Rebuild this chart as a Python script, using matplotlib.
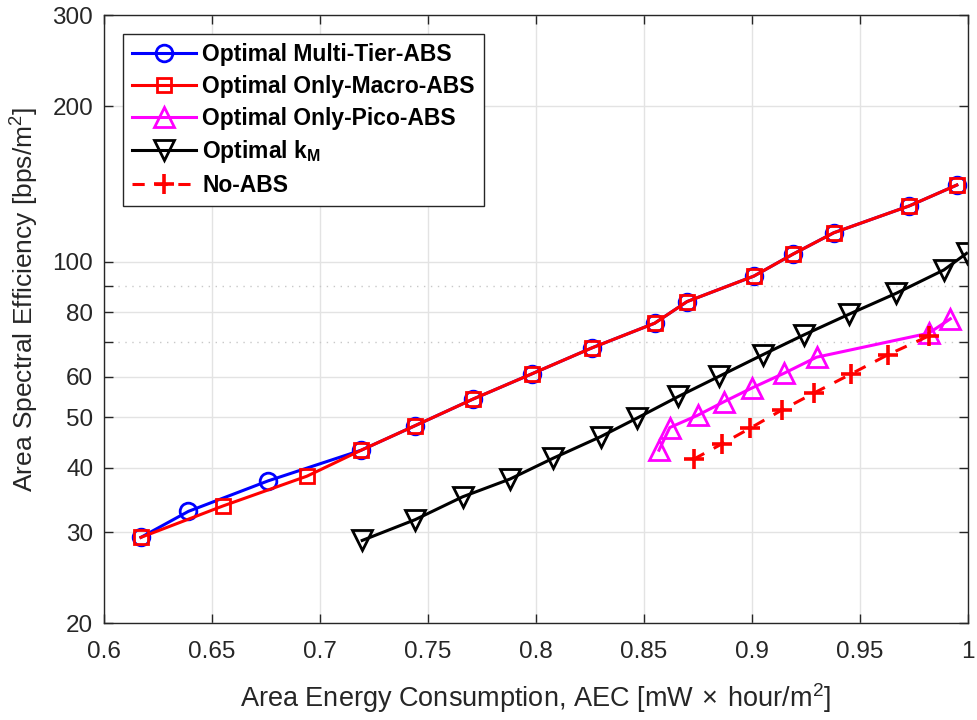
import numpy as np
import matplotlib
matplotlib.use('Agg')
import matplotlib.pyplot as plt
from matplotlib.ticker import FixedLocator, NullFormatter

plt.rcParams['font.family'] = ['Liberation Sans', 'DejaVu Sans']
plt.rcParams['mathtext.fontset'] = 'custom'
plt.rcParams['mathtext.rm'] = 'Liberation Sans'
plt.rcParams['mathtext.bf'] = 'Liberation Sans:bold'

# data
aec_multi = [0.617, 0.639, 0.676, 0.719, 0.744, 0.771, 0.798, 0.826, 0.855, 0.870, 0.901, 0.919, 0.938, 0.973, 0.995]
ase_multi = [29.3, 32.9, 37.7, 43.2, 48.2, 54.3, 60.7, 68.2, 76.1, 83.8, 93.9, 103.5, 113.9, 128.4, 140.9]

aec_macro = [0.617, 0.655, 0.694, 0.719, 0.744, 0.771, 0.798, 0.826, 0.855, 0.870, 0.901, 0.919, 0.938, 0.973, 0.995]
ase_macro = [29.3, 33.7, 38.5, 43.2, 48.2, 54.3, 60.7, 68.2, 76.1, 83.8, 93.9, 103.5, 113.9, 128.4, 140.9]

aec_pico = [0.857, 0.862, 0.875, 0.887, 0.900, 0.915, 0.930, 0.982, 0.992]
ase_pico = [43.2, 47.8, 50.5, 53.6, 57.0, 60.9, 65.4, 72.8, 77.6]

aec_km = [0.7195, 0.744, 0.766, 0.788, 0.808, 0.830, 0.847, 0.866, 0.885, 0.905, 0.924, 0.945, 0.967, 0.989, 0.9995]
ase_km = [28.9, 31.7, 35.1, 38.0, 41.7, 45.9, 49.9, 54.9, 60.1, 66.1, 72.2, 79.2, 87.0, 96.5, 103.9]

aec_noabs = [0.873, 0.886, 0.899, 0.914, 0.929, 0.946, 0.963, 0.982]
ase_noabs = [41.5, 44.4, 47.6, 51.7, 55.8, 60.7, 66.1, 71.9]

xticks = [0.6, 0.65, 0.7, 0.75, 0.8, 0.85, 0.9, 0.95, 1]
yticks = [20, 30, 40, 50, 60, 80, 100, 200, 300]
yminor = [70, 90]


fig = plt.figure(figsize=(9.78, 7.2), dpi=100)
ax = fig.add_axes([0.1066, 0.1347, 0.8828, 0.8438])

lw = 2.2
mew = 2.0
ax.plot(aec_multi, ase_multi, '-o', color='blue', lw=lw, ms=12, mew=mew, mfc='none',
        label='Optimal Multi-Tier-ABS')
ax.plot(aec_macro, ase_macro, '-s', color='red', lw=lw, ms=10, mew=mew, mfc='none',
        label='Optimal Only-Macro-ABS')
ax.plot(aec_pico, ase_pico, '-^', color='magenta', lw=lw, ms=14, mew=mew, mfc='none',
        label='Optimal Only-Pico-ABS')
ax.plot(aec_km, ase_km, '-v', color='black', lw=lw, ms=14, mew=mew, mfc='none',
        label=r'Optimal k$_\mathbf{M}$')
ax.plot(aec_noabs, ase_noabs, '--+', color='red', lw=lw, ms=15, mew=2.6,
        dashes=(4, 3.5), label='No-ABS')

ax.set_yscale('log')
ax.set_xlim(0.6, 1)
ax.set_ylim(20, 300)
ax.xaxis.set_major_locator(FixedLocator(xticks))
ax.set_xticklabels(['0.6', '0.65', '0.7', '0.75', '0.8', '0.85', '0.9', '0.95', '1'])
ax.yaxis.set_major_locator(FixedLocator(yticks))
ax.yaxis.set_minor_locator(FixedLocator(yminor))
ax.yaxis.set_minor_formatter(NullFormatter())
ax.set_yticklabels([str(t) for t in yticks])

ax.grid(True, which='major', color='#e3e3e3', lw=1)
ax.grid(True, which='minor', axis='y', color='#c8c8c8', lw=1, ls=(0, (1, 4)))
ax.set_axisbelow(True)
ax.tick_params(which='both', direction='in', top=True, right=True, length=6.5,
               width=1, colors='#262626', labelsize=17.5, labelcolor='#262626')
ax.tick_params(axis='x', pad=13)
ax.tick_params(axis='y', pad=8)
for s in ax.spines.values():
    s.set_color('#262626')
    s.set_linewidth(1)

ax.set_xlabel(r'Area Energy Consumption, AEC [mW$\,\times\,$hour/m$^2$]', fontsize=19.5,
              color='#262626', labelpad=13)
ax.set_ylabel(r'Area Spectral Efficiency [bps/m$^2$]', fontsize=19, color='#262626')
ax.yaxis.set_label_coords(-0.075, 0.533)

leg = ax.legend(loc='upper left', bbox_to_anchor=(0.0213, 0.9695), borderaxespad=0,
                prop={'weight': 'bold', 'size': 16.5}, fancybox=False, framealpha=1,
                edgecolor='#262626', handlelength=2.8, labelspacing=0.38,
                handletextpad=0.27, borderpad=0.4)
leg.get_frame().set_linewidth(1)

fig.savefig('out.png', dpi=100)
